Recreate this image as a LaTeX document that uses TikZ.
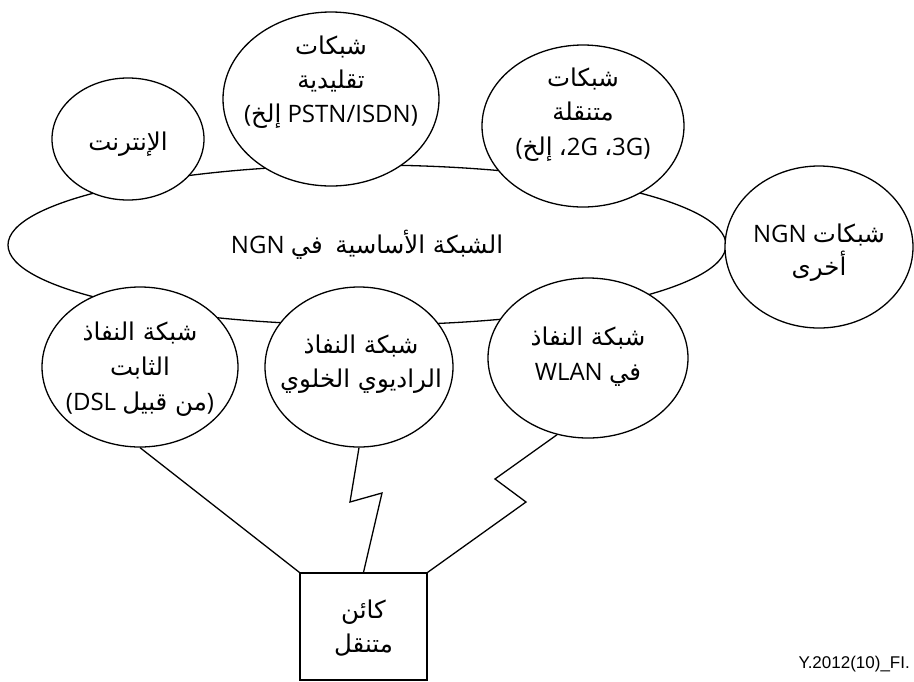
\documentclass[tikz,border=0pt]{standalone}
\usepackage{fontspec}
\setmainfont{Open Sans}
\newfontfamily\arabicfont[Script=Arabic,Scale=1.02]{DejaVu Sans}
\newfontfamily\figfont{Liberation Sans}
\TeXXeTstate=1
\usetikzlibrary{shapes.geometric}
% right-to-left Arabic run
\newcommand\ar[1]{{\arabicfont\beginR #1\endR}}

\begin{document}
\begin{tikzpicture}[x=1pt,y=-1pt,
  net/.style={ellipse, draw, fill=white, line width=1.3pt, inner sep=0pt},
  device/.style={rectangle, draw, line width=1.3pt, inner sep=0pt},
  lbl/.style={anchor=base, inner sep=0pt, font=\fontsize{24}{28}\selectfont},
  link/.style={line width=1.3pt, line join=miter}]

\useasboundingbox (0,0) rectangle (914,681);

% core network
\node[net, minimum width=718pt, minimum height=160pt] (core) at (367,245) {};

% surrounding networks
\node[net, minimum width=152pt, minimum height=122pt] (inet)  at (128,139) {};
\node[net, minimum width=216pt, minimum height=174pt] (trad)  at (331,99)  {};
\node[net, minimum width=202pt, minimum height=162pt] (mobnet) at (583,126) {};
\node[net, minimum width=188pt, minimum height=162pt] (other) at (819,247) {};
\node[net, minimum width=196pt, minimum height=160pt] (fixed) at (140,367) {};
\node[net, minimum width=188pt, minimum height=160pt] (cell)  at (359,367) {};
\node[net, minimum width=200pt, minimum height=160pt] (wlan)  at (588,358) {};

% mobile entity
\node[device, minimum width=127pt, minimum height=107pt] (mob) at (363.5,626.5) {};

% labels
\node[lbl] (coreT) at (367,253) {NGN \ar{في}\ \ \ar{الشبكة الأساسية}};

\node[lbl] (inetT) at (128,150) {\ar{الإنترنت}};

\node[lbl] (tradA) at (331,54)  {\ar{شبكات}};
\node[lbl] (tradB) at (331,88)  {\ar{تقليدية}};
\node[lbl] (tradC) at (331,122) {(\ar{إلخ} PSTN/ISDN)};

\node[lbl] (mobA) at (583,86)  {\ar{شبكات}};
\node[lbl] (mobB) at (583,120) {\ar{متنقلة}};
\node[lbl] (mobC) at (583,155) {(\ar{إلخ} \ar{،}2G \ar{،}3G)};

\node[lbl] (otherA) at (819,242) {NGN \ar{شبكات}};
\node[lbl] (otherB) at (819,275) {\ar{أخرى}};

\node[lbl] (fixedA) at (140,340) {\ar{شبكة النفاذ}};
\node[lbl] (fixedB) at (140,375) {\ar{الثابت}};
\node[lbl] (fixedC) at (140,410) {(DSL \ar{من قبيل})};

\node[lbl] (cellA) at (361,353) {\ar{شبكة النفاذ}};
\node[lbl] (cellB) at (361,387) {\ar{الراديوي الخلوي}};

\node[lbl] (wlanA) at (588,345) {\ar{شبكة النفاذ}};
\node[lbl] (wlanB) at (588,380) {WLAN \ar{في}};

\node[lbl] (mobT1) at (363.5,618) {\ar{كائن}};
\node[lbl] (mobT2) at (363.5,652) {\ar{متنقل}};

% access links to the mobile entity
\coordinate (cz1) at (350,502);
\coordinate (cz2) at (382,493);
\coordinate (wz1) at (495,479);
\coordinate (wz2) at (526,502);

\draw[link] (fixed.south) -- (mob.north west);
\draw[link] (cell.south) -- (cz1) -- (cz2) -- (mob.north);
\draw[link] (wlan.248) -- (wz1) -- (wz2) -- (mob.north east);

% figure reference
\node[anchor=base east, inner sep=0pt, font=\figfont\fontsize{17}{20}\selectfont] (ref) at (910,668) {Y.2012(10)\_FI.};
\end{tikzpicture}
\end{document}
